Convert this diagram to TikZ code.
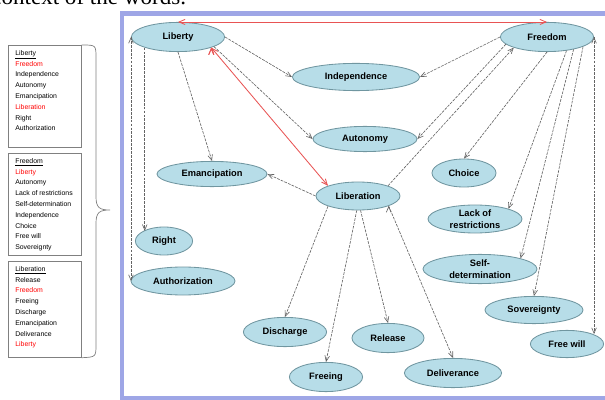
\documentclass[tikz,border=0pt]{standalone}
\usepackage{fontspec}
\setmainfont{Liberation Serif}
\setsansfont{Liberation Sans}
\usepackage{tikz}
\usetikzlibrary{arrows,fit,positioning,calc,shapes.geometric}
\definecolor{wordfill}{RGB}{183,221,232}
\definecolor{wordline}{RGB}{112,150,160}
\definecolor{linkgray}{RGB}{100,100,100}
\definecolor{linkred}{RGB}{232,84,84}
\definecolor{framebl}{RGB}{158,166,230}

\begin{document}
\begin{tikzpicture}[x=0.025cm, y=-0.025cm, >=angle 45,
 word/.style={ellipse, draw=wordline, fill=wordfill, line width=0.6pt, inner sep=0pt, align=center,
   font=\sffamily\bfseries\fontsize{6.6}{8.4}\selectfont},
 twoline/.style={inner ysep=-1.5pt},
 link/.style={->, draw=linkgray, line width=0.45pt, dash pattern=on 2pt off 0.8pt},
 twin/.style={<->, draw=linkred, line width=0.6pt},
 listbox/.style={draw=gray, line width=0.5pt, anchor=north west, minimum width=1.825cm},
 listtext/.style={anchor=north west, inner sep=0pt, every text node part/.style={align=left},
   font=\sffamily\fontsize{4.9}{7.7}\selectfont}]
 \useasboundingbox (0,0) rectangle (605,400);

 \node[anchor=base east, font=\fontsize{16.4}{18}\selectfont] (caption) at (191,4.5) {context of the words.};
 \draw[framebl, line width=3pt] (122,13.5) rectangle (616,398.5);

 % word map
 \node[word, minimum width=2.33cm, minimum height=0.73cm] (liberty) at (178,37) {Liberty};
 \node[word, minimum width=2.33cm, minimum height=0.73cm] (freedom) at (547,37) {Freedom};
 \node[word, minimum width=3.18cm, minimum height=0.68cm] (independence) at (356,77) {Independence};
 \node[word, minimum width=2.6cm, minimum height=0.63cm] (autonomy) at (365,139) {Autonomy};
 \node[word, minimum width=2.1cm, minimum height=0.7cm] (liberation) at (358,196) {Liberation};
 \node[word, minimum width=2.75cm, minimum height=0.63cm] (emancipation) at (212,174) {Emancipation};
 \node[word, minimum width=1.6cm, minimum height=0.7cm] (choice) at (464,173) {Choice};
 \node[word, twoline, minimum width=2.35cm, minimum height=0.7cm] (lack) at (475,219) {Lack of \\ restrictions};
 \node[word, twoline, minimum width=2.85cm, minimum height=0.73cm] (selfdet) at (480,269) {Self- \\ determination};
 \node[word, minimum width=2.45cm, minimum height=0.68cm] (sovereignty) at (534,310) {Sovereignty};
 \node[word, minimum width=1.83cm, minimum height=0.68cm] (freewill) at (567,344) {Free will};
 \node[word, minimum width=2.43cm, minimum height=0.73cm] (deliverance) at (453,373) {Deliverance};
 \node[word, minimum width=1.8cm, minimum height=0.73cm] (release) at (388,338) {Release};
 \node[word, minimum width=1.83cm, minimum height=0.73cm] (freeing) at (326,377) {Freeing};
 \node[word, minimum width=2.08cm, minimum height=0.73cm] (discharge) at (285,332) {Discharge};
 \node[word, minimum width=1.43cm, minimum height=0.7cm] (right) at (164,241) {Right};
 \node[word, minimum width=2.6cm, minimum height=0.7cm] (authorization) at (183,281) {Authorization};

 \path[twin] (liberty.north) edge (freedom.north)
             (liberty.south east) edge (liberation.north west);

 \path[link] (liberty.east) edge (independence.west)
             (liberty.-15) edge (autonomy.west)
             (liberty.south) edge (emancipation.north)
             (liberty.south west) edge (liberty.south west |- right.north west)
             (liberty.west) edge (liberty.west |- authorization.west);

 \path[link] (freedom.west) edge (independence.east)
             (freedom.190) edge (autonomy.east)
             (freedom.south) edge (choice.north)
             (freedom.-35) edge (lack.north east)
             (freedom.-25) edge (selfdet.north east)
             (freedom.-15) edge (sovereignty.north)
             (freedom.east) edge (freedom.east |- freewill.north east);

 \path[link] (liberation.north east) edge (freedom.south west)
             (liberation.west) edge (emancipation.east)
             (liberation.south west) edge (discharge.north)
             (liberation.-95) edge (freeing.north)
             (liberation.-80) edge (release.north)
             (liberation.-18) edge (deliverance.north);

 % synonym lists
 \node[listbox, minimum height=2.55cm] (libertybox) at (8,45) {};
 \node[listbox, minimum height=2.55cm] (freedombox) at (8,153) {};
 \node[listbox, minimum height=2.4cm] (liberationbox) at (8,261) {};

 \node[listtext] (libertylist) at ([xshift=5pt, yshift=-3.5pt]libertybox.north west)
  {\underline{Liberty} \\ \textcolor{red}{Freedom} \\ Independence \\ Autonomy \\ Emancipation \\ \textcolor{red}{Liberation} \\ Right \\ Authorization};
 \node[listtext] (freedomlist) at ([xshift=5pt, yshift=-3.5pt]freedombox.north west)
  {\underline{Freedom} \\ \textcolor{red}{Liberty} \\ Autonomy \\ Lack of restrictions \\ Self-determination \\ Independence \\ Choice \\ Free will \\ Sovereignty};
 \node[listtext] (liberationlist) at ([xshift=5pt, yshift=-3.5pt]liberationbox.north west)
  {\underline{Liberation} \\ Release \\ \textcolor{red}{Freedom} \\ Freeing \\ Discharge \\ Emancipation \\ Deliverance \\ \textcolor{red}{Liberty}};

 \draw[gray, line width=0.5pt] (libertybox.north east) .. controls (96,45) .. (96,58) -- (96,197)
   .. controls (96,208) and (100,210) .. (110,210) .. controls (100,210) and (96,212) .. (96,223)
   -- (96,344) .. controls (96,357) .. (liberationbox.south east);

\end{tikzpicture}
\end{document}
